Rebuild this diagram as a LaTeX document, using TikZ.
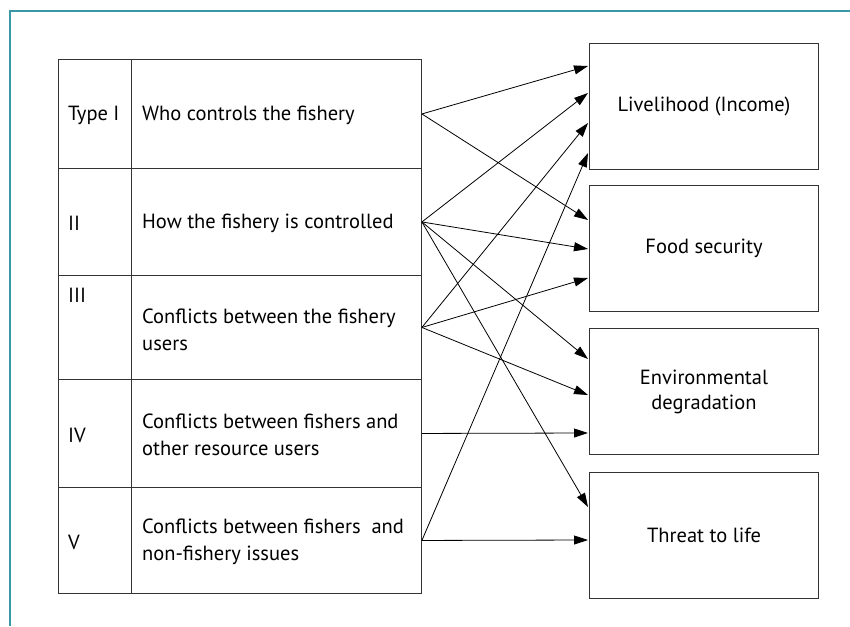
\documentclass[tikz,border=0pt]{standalone}
\usepackage{fontspec}
\setmainfont{PT Sans}
\usepackage{tikz}
\usetikzlibrary{arrows.meta, positioning, calc}
\definecolor{frameteal}{HTML}{3A97A5}
\definecolor{gridgray}{HTML}{333333}

\begin{document}
\begin{tikzpicture}[x=1pt, y=-1pt,
  rowbox/.style={draw=gridgray, line width=0.9pt, minimum width=363pt, inner sep=0pt, anchor=north west},
  effectbox/.style={draw=gridgray, line width=1pt, minimum width=229pt, minimum height=126pt, inner sep=0pt, align=center, anchor=north west, font=\fontsize{20.5}{25}\selectfont},
  celltext/.style={anchor=west, align=left, inner sep=0pt, font=\fontsize{20.5}{27}\selectfont},
  link/.style={line width=0.8pt, -{Triangle[length=14pt, width=9pt]}}]
  \useasboundingbox (0,0) rectangle (850,626);

  % Teal frame (top and left)
  \draw[frameteal, line width=2.5pt] (10,626) -- (10,11) -- (850,11);

  % Table of conflict types
  \node[rowbox, minimum height=109pt] (r1) at (58,59) {};
  \node[rowbox, minimum height=107pt] (r2) at (58,168) {};
  \node[rowbox, minimum height=104pt] (r3) at (58,275) {};
  \node[rowbox, minimum height=108pt] (r4) at (58,379) {};
  \node[rowbox, minimum height=106pt] (r5) at (58,487) {};
  \draw[gridgray, line width=0.9pt] ($(r1.north west)+(73,0)$) -- ($(r5.south west)+(73,0)$);

  % Type labels
  \node[celltext] (k1) at (68,115) {Type I};
  \node[celltext] (k2) at (68,223) {II};
  \node[celltext] (k3) at (68,295) {III};
  \node[celltext] (k4) at (68,435) {IV};
  \node[celltext] (k5) at (68,542) {V};

  % Descriptions
  \node[celltext] (d1) at (142,115) {Who controls the fishery};
  \node[celltext] (d2) at (142,223) {How the fishery is controlled};
  \node[celltext] (d3) at (142,329.5) {Conflicts between the fishery\\users};
  \node[celltext] (d4) at (142,434.5) {Conflicts between fishers and\\other resource users};
  \node[celltext] (d5) at (142,541.5) {Conflicts between fishers \ and\\non-fishery issues};

  % Effect boxes
  \node[effectbox] (live) at (589,43) {Livelihood (Income)};
  \node[effectbox] (food) at (589,185) {Food security};
  \node[effectbox] (env) at (589,328) {Environmental\\degradation};
  \node[effectbox] (life) at (589,472) {Threat to life};

  % Arrow end points on the boxes
  \coordinate (liveA) at (588,66);
  \coordinate (liveB) at (588,93);
  \coordinate (liveC) at (588,123);
  \coordinate (liveD) at (588,153);
  \coordinate (foodA) at (588,220);
  \coordinate (foodB) at (588,249);
  \coordinate (foodC) at (588,278);
  \coordinate (envA) at (588,359);
  \coordinate (envB) at (588,395);
  \coordinate (envC) at (588,433);
  \coordinate (lifeA) at (588,507);
  \coordinate (lifeB) at (588,540);

  % Links
  \draw[link] (r1.east) -- (liveA);
  \draw[link] (r1.east) -- (foodA);
  \draw[link] (r2.east) -- (liveB);
  \draw[link] (r2.east) -- (foodB);
  \draw[link] (r2.east) -- (envA);
  \draw[link] (r2.east) -- (lifeA);
  \draw[link] (r3.east) -- (liveC);
  \draw[link] (r3.east) -- (foodC);
  \draw[link] (r3.east) -- (envB);
  \draw[link] (r4.east) -- (envC);
  \draw[link] (r5.east) -- (liveD);
  \draw[link] (r5.east) -- (lifeB);
\end{tikzpicture}
\end{document}
